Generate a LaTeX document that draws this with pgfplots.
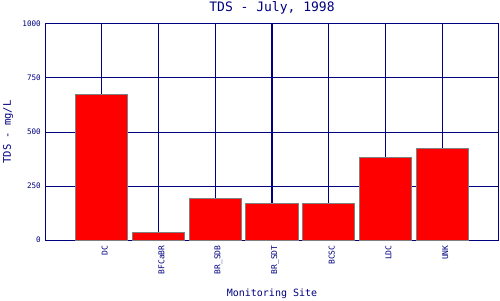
\documentclass[border=0pt]{standalone}
\usepackage{fontspec}
\setmainfont{DejaVu Sans Mono}
\usepackage{pgfplots}
\pgfplotsset{compat=1.18}
\definecolor{navy}{RGB}{0,0,128}
\begin{document}
\begin{tikzpicture}[x=1pt,y=1pt]
\useasboundingbox[fill=white] (0,0) rectangle (500,300);
\begin{axis}[
  at={(45pt,60pt)}, anchor=south west,
  scale only axis, width=454pt, height=216pt,
  xmin=0, xmax=8, ymin=0, ymax=1000,
  enlargelimits=false,
  xtick={1,2,3,4,5,6,7},
  xticklabels={DC,BFCaBR,BR\_SDB,BR\_SDT,BCSC,LDC,UNK},
  ytick={0,250,500,750,1000},
  /pgf/number format/assume math mode=true,
  /pgf/number format/1000 sep={},
  xticklabel style={rotate=90, anchor=east, font=\fontsize{8}{9}\selectfont, text=navy, inner sep=1pt, yshift=-3pt},
  yticklabel style={font=\fontsize{7.6}{9}\selectfont, text=navy, inner sep=1pt, xshift=-3pt},
  grid=major,
  major grid style={draw=navy, line width=1pt},
  axis line style={draw=navy, line width=1pt},
  tick style={draw=none},
  every axis title shift=0pt,
  title={TDS - July, 1998},
  title style={at={(axis description cs:0.5,1.074)}, anchor=center, font=\fontsize{13}{15}\selectfont, text=navy},
  xlabel={Monitoring Site},
  xlabel style={at={(axis description cs:0.5,-0.25)}, anchor=center, font=\fontsize{10}{12}\selectfont, text=navy},
  ylabel={TDS - mg/L},
  ylabel style={at={(axis description cs:-0.0815,0.5)}, anchor=center, font=\fontsize{10.5}{12}\selectfont, text=navy},
  ybar, bar width=52pt, bar shift=0pt,
]
\addplot[fill=red, draw=gray, line width=1pt] coordinates {
  (1,674) (2,36) (3,193) (4,170) (5,170) (6,383) (7,423)
};
\end{axis}
\end{tikzpicture}
\end{document}
